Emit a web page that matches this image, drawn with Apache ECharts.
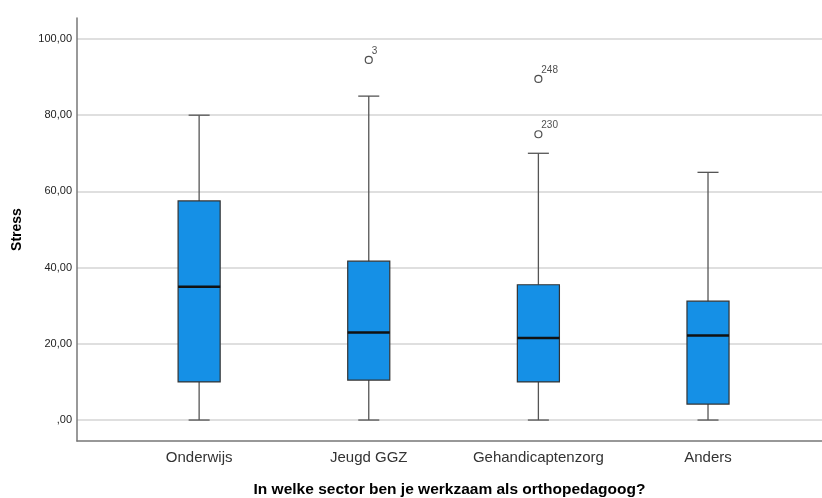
<!DOCTYPE html>
<html>
<head>
<meta charset="utf-8">
<script src="https://cdn.jsdelivr.net/npm/echarts@6/dist/echarts.min.js"></script>
<style>
  html, body { margin: 0; padding: 0; background: #fff; }
  #chart { width: 822px; height: 498px; }
</style>
</head>
<body>
<div id="chart"></div>
<script>
const categories = ["Onderwijs", "Jeugd GGZ", "Gehandicaptenzorg", "Anders"]
const whiskerLow = [0, 0, 0, 0]
const q1 = [10, 10.5, 10, 4.2]
const median = [35, 23, 21.5, 22.2]
const q3 = [57.5, 41.7, 35.5, 31.2]
const whiskerHigh = [80, 85, 70, 65]

const outlierCategory = [1, 2, 2]
const outlierValue = [94.5, 89.5, 75]
const outlierLabel = ["3", "248", "230"]

const yTicks = [0, 20, 40, 60, 80, 100]

const font = "Liberation Sans, Arial, sans-serif"

const boxData = categories.map((c, i) => [i, whiskerLow[i], q1[i], median[i], q3[i], whiskerHigh[i]])
const outlierData = outlierValue.map((v, i) => ({ name: outlierLabel[i], value: [outlierCategory[i], v] }))

const chart = echarts.init(document.getElementById("chart"))

chart.setOption({
  animation: false,
  grid: { left: 77, right: 0, top: 18, bottom: 57, outerBoundsMode: "none", containLabel: false },
  xAxis: {
    type: "value",
    min: -0.72,
    max: 3.672,
    name: "In welke sector ben je werkzaam als orthopedagoog?",
    nameLocation: "middle",
    nameGap: 41,
    nameTextStyle: { fontFamily: font, fontSize: 15.5, fontWeight: "bold", color: "#000" },
    axisLine: { onZero: false, lineStyle: { color: "#777", width: 1.5 } },
    axisTick: { show: false },
    splitLine: { show: false },
    axisLabel: {
      customValues: [0, 1, 2, 3],
      formatter: (v) => categories[Math.round(v)],
      fontFamily: font,
      fontSize: 15,
      color: "#333",
      margin: 9,
    },
  },
  yAxis: {
    type: "value",
    min: -5.5,
    max: 105.5,
    name: "Stress",
    nameLocation: "middle",
    nameGap: 53,
    nameTextStyle: { fontFamily: font, fontSize: 14, fontWeight: "bold", color: "#000" },
    axisLine: { show: true, onZero: false, lineStyle: { color: "#777", width: 1.5 } },
    axisTick: { show: false, customValues: yTicks },
    splitLine: { show: true, lineStyle: { color: "#d4d4d4", width: 1.5 } },
    axisLabel: {
      customValues: yTicks,
      formatter: (v) => (v === 0 ? ",00" : v.toFixed(2).replace(".", ",")),
      fontFamily: font,
      fontSize: 11,
      color: "#222",
      margin: 5,
    },
  },
  series: [
    {
      type: "custom",
      data: boxData,
      renderItem: (params, api) => {
        const x = api.value(0)
        const pLow = api.coord([x, api.value(1)])
        const pQ1 = api.coord([x, api.value(2)])
        const pMed = api.coord([x, api.value(3)])
        const pQ3 = api.coord([x, api.value(4)])
        const pHigh = api.coord([x, api.value(5)])
        const halfBox = api.size([0.248, 0])[0] / 2
        const halfCap = halfBox / 2
        const cx = pLow[0]
        const whisker = { stroke: "#555", lineWidth: 1.3 }
        return {
          type: "group",
          children: [
            { type: "line", shape: { x1: cx, y1: pLow[1], x2: cx, y2: pQ1[1] }, style: whisker },
            { type: "line", shape: { x1: cx, y1: pQ3[1], x2: cx, y2: pHigh[1] }, style: whisker },
            { type: "line", shape: { x1: cx - halfCap, y1: pLow[1], x2: cx + halfCap, y2: pLow[1] }, style: whisker },
            { type: "line", shape: { x1: cx - halfCap, y1: pHigh[1], x2: cx + halfCap, y2: pHigh[1] }, style: whisker },
            {
              type: "rect",
              shape: { x: cx - halfBox, y: pQ3[1], width: halfBox * 2, height: pQ1[1] - pQ3[1] },
              style: { fill: "#1590e6", stroke: "#333", lineWidth: 1.2 },
            },
            {
              type: "line",
              shape: { x1: cx - halfBox, y1: pMed[1], x2: cx + halfBox, y2: pMed[1] },
              style: { stroke: "#111", lineWidth: 2.5 },
            },
          ],
        }
      },
    },
    {
      type: "scatter",
      data: outlierData,
      symbol: "circle",
      symbolSize: 7,
      itemStyle: { color: "#fff", borderColor: "#222", borderWidth: 1.2 },
      label: {
        show: true,
        formatter: (p) => p.name,
        position: [7, -10],
        fontFamily: font,
        fontSize: 10,
        color: "#222",
      },
    },
  ],
})
</script>
</body>
</html>
